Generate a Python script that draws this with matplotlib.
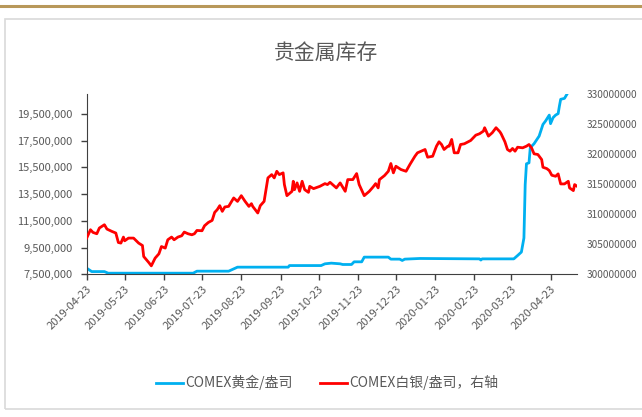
import pandas as pd
import matplotlib.pyplot as plt
import matplotlib.dates as mdates
from matplotlib import font_manager
from matplotlib.ticker import FuncFormatter, FixedLocator
from matplotlib.patches import Rectangle
from matplotlib.lines import Line2D

plt.rcParams['font.family'] = ['Noto Sans CJK SC', 'DejaVu Sans']
installed = {f.name for f in font_manager.fontManager.ttflist}
narrow = "Liberation Sans Narrow" if "Liberation Sans Narrow" in installed else None

# COMEX gold stocks (oz), left axis
gold_dates = [
    "2019-04-23", "2019-04-27", "2019-05-07", "2019-05-10", "2019-07-16", "2019-07-19",
    "2019-08-13", "2019-08-20", "2019-09-29", "2019-09-30", "2019-10-25", "2019-10-28",
    "2019-11-02", "2019-11-09", "2019-11-11", "2019-11-18", "2019-11-20", "2019-11-26",
    "2019-11-28", "2019-12-17", "2019-12-19", "2019-12-26", "2019-12-28", "2019-12-30",
    "2020-01-11", "2020-02-27", "2020-02-28", "2020-02-29", "2020-03-25", "2020-03-28",
    "2020-03-31", "2020-04-02", "2020-04-03", "2020-04-04", "2020-04-06", "2020-04-07",
    "2020-04-10", "2020-04-14", "2020-04-17", "2020-04-19", "2020-04-22", "2020-04-23",
    "2020-04-25", "2020-04-27", "2020-04-29", "2020-04-30", "2020-05-01", "2020-05-04",
    "2020-05-06",
]
gold_mil = [
    7.965, 7.71, 7.71, 7.59, 7.59, 7.74,
    7.74, 8.04, 8.04, 8.16, 8.16, 8.29,
    8.34, 8.29, 8.24, 8.24, 8.44, 8.44,
    8.79, 8.79, 8.64, 8.64, 8.54, 8.64,
    8.69, 8.66, 8.57, 8.66, 8.66, 8.91,
    9.17, 10.22, 14.21, 15.77, 15.84, 16.97,
    17.27, 17.84, 18.71, 18.96, 19.41, 18.77,
    19.22, 19.41, 19.52, 20.09, 20.59, 20.66,
    20.98,
]

# COMEX silver stocks (oz), right axis
silver_dates = [
    "2019-04-23", "2019-04-26", "2019-04-28", "2019-05-01", "2019-05-03", "2019-05-07",
    "2019-05-09", "2019-05-13", "2019-05-16", "2019-05-18", "2019-05-20", "2019-05-22",
    "2019-05-23", "2019-05-26", "2019-05-30", "2019-06-03", "2019-06-06", "2019-06-07",
    "2019-06-11", "2019-06-13", "2019-06-16", "2019-06-19", "2019-06-21", "2019-06-24",
    "2019-06-26", "2019-06-29", "2019-07-01", "2019-07-04", "2019-07-07", "2019-07-09",
    "2019-07-12", "2019-07-15", "2019-07-17", "2019-07-19", "2019-07-23", "2019-07-25",
    "2019-07-28", "2019-07-31", "2019-08-02", "2019-08-04", "2019-08-06", "2019-08-08",
    "2019-08-10", "2019-08-13", "2019-08-17", "2019-08-20", "2019-08-23", "2019-08-26",
    "2019-08-29", "2019-08-31", "2019-09-01", "2019-09-05", "2019-09-07", "2019-09-10",
    "2019-09-13", "2019-09-16", "2019-09-18", "2019-09-20", "2019-09-22", "2019-09-25",
    "2019-09-26", "2019-09-28", "2019-10-02", "2019-10-03", "2019-10-04", "2019-10-06",
    "2019-10-08", "2019-10-10", "2019-10-12", "2019-10-15", "2019-10-16", "2019-10-19",
    "2019-10-24", "2019-10-28", "2019-10-30", "2019-11-01", "2019-11-03", "2019-11-06",
    "2019-11-09", "2019-11-13", "2019-11-15", "2019-11-19", "2019-11-22", "2019-11-24",
    "2019-11-28", "2019-12-02", "2019-12-05", "2019-12-07", "2019-12-09", "2019-12-10",
    "2019-12-14", "2019-12-17", "2019-12-19", "2019-12-21", "2019-12-23", "2019-12-27",
    "2019-12-31", "2020-01-03", "2020-01-07", "2020-01-09", "2020-01-12", "2020-01-15",
    "2020-01-17", "2020-01-21", "2020-01-24", "2020-01-26", "2020-01-28", "2020-01-30",
    "2020-02-02", "2020-02-03", "2020-02-05", "2020-02-07", "2020-02-10", "2020-02-12",
    "2020-02-15", "2020-02-18", "2020-02-20", "2020-02-24", "2020-02-27", "2020-03-01",
    "2020-03-02", "2020-03-05", "2020-03-08", "2020-03-11", "2020-03-14", "2020-03-15",
    "2020-03-18", "2020-03-20", "2020-03-22", "2020-03-24", "2020-03-26", "2020-03-28",
    "2020-04-01", "2020-04-04", "2020-04-06", "2020-04-08", "2020-04-10", "2020-04-13",
    "2020-04-16", "2020-04-17", "2020-04-20", "2020-04-22", "2020-04-24", "2020-04-27",
    "2020-04-29", "2020-05-01", "2020-05-04", "2020-05-07", "2020-05-08", "2020-05-11",
    "2020-05-12", "2020-05-14",
]
silver_mil = [
    306.03, 307.42, 306.97, 306.75, 307.70, 308.25,
    307.53, 307.13, 306.87, 305.30, 305.20, 306.20,
    305.58, 306.03, 306.03, 305.20, 304.80, 302.97,
    301.97, 301.42, 302.70, 303.42, 304.63, 304.37,
    305.75, 306.20, 305.75, 306.20, 306.42, 307.03,
    306.75, 306.58, 306.75, 307.30, 307.25, 308.08,
    308.63, 308.97, 310.30, 310.75, 311.42, 310.47,
    311.20, 311.30, 312.70, 312.13, 313.08, 312.13,
    311.30, 311.75, 311.30, 310.20, 311.42, 312.13,
    316.03, 316.58, 316.03, 317.13, 316.58, 316.87,
    314.92, 313.08, 313.80, 315.47, 314.08, 315.20,
    313.80, 315.47, 314.08, 313.63, 314.63, 314.25,
    314.63, 315.08, 314.92, 315.30, 314.92, 314.37,
    315.20, 313.80, 315.75, 315.75, 316.75, 314.92,
    313.08, 313.80, 314.53, 315.08, 314.37, 315.75,
    316.42, 317.13, 318.42, 316.87, 317.97, 317.42,
    317.13, 318.25, 319.63, 320.20, 320.47, 320.75,
    319.47, 319.63, 321.30, 322.03, 321.58, 320.75,
    321.30, 321.30, 322.42, 320.20, 320.20, 321.58,
    321.70, 322.03, 322.25, 323.13, 323.37, 323.80,
    324.37, 322.97, 323.53, 324.37, 323.70, 323.37,
    322.03, 320.75, 320.47, 320.92, 320.47, 321.13,
    321.03, 321.30, 321.58, 321.03, 320.03, 319.92,
    319.08, 317.80, 317.58, 317.25, 316.47, 316.30,
    316.70, 315.03, 315.03, 315.47, 314.37, 313.92,
    314.92, 314.63,
]

month_ticks = pd.date_range("2019-04-23", "2020-04-23", freq=pd.DateOffset(months=1))

gold = pd.Series([v * 1e6 for v in gold_mil], index=pd.to_datetime(gold_dates))
silver = pd.Series([v * 1e6 for v in silver_mil], index=pd.to_datetime(silver_dates))

grey = "#595959"
fig = plt.figure(figsize=(6.42, 4.17), dpi=100)

# page decoration: gold rule on top, light frame around chart
fig.add_artist(Line2D([0, 1], [0.986, 0.986], color="#b8985a", lw=2.2, transform=fig.transFigure))
fig.add_artist(Rectangle((0.008, 0.018), 1.05, 0.937, transform=fig.transFigure,
                         fill=False, edgecolor="#d9d9d9", lw=1.2))

ax = fig.add_axes([0.135, 0.342, 0.764, 0.433])
ax2 = ax.twinx()

ax.plot(gold.index, gold.values, color="#00b0f0", lw=2.0, label="COMEX黄金/盎司")
ax2.plot(silver.index, silver.values, color="#ff0000", lw=2.0, label="COMEX白银/盎司，右轴")

ax.set_xlim(pd.Timestamp("2019-04-23"), pd.Timestamp("2020-05-14"))
ax.set_ylim(7.5e6, 21e6)
ax2.set_ylim(300e6, 330e6)

ax.xaxis.set_major_locator(FixedLocator(mdates.date2num(month_ticks)))
ax.xaxis.set_major_formatter(mdates.DateFormatter("%Y-%m-%d"))
ax.set_yticks([7.5e6 + 2e6 * i for i in range(7)])
ax.yaxis.set_major_formatter(FuncFormatter(lambda v, p: f"{v:,.0f}"))
ax2.set_yticks([300e6 + 5e6 * i for i in range(7)])
ax2.yaxis.set_major_formatter(FuncFormatter(lambda v, p: f"{v:.0f}"))

for lab in ax.get_xticklabels():
    lab.set_rotation(45)
    lab.set_ha("right")
    lab.set_rotation_mode("anchor")

num_size = 9.5 if narrow else 8
ax.tick_params(axis="x", colors=grey, labelsize=num_size, length=4, width=1, pad=3)
ax.tick_params(axis="y", colors=grey, labelsize=num_size, length=4, width=1, pad=6)
ax2.tick_params(axis="y", colors=grey, labelsize=num_size - 0.7, length=0, pad=7)
ax.tick_params(axis="both", which="both", color="#404040")
if narrow:
    for lab in ax.get_xticklabels() + ax.get_yticklabels() + ax2.get_yticklabels():
        lab.set_fontfamily(narrow)

for a in (ax, ax2):
    a.spines["top"].set_visible(False)
    a.spines["right"].set_visible(False)
    a.patch.set_visible(False)
ax2.spines["left"].set_visible(False)
ax2.spines["bottom"].set_visible(False)
ax.spines["left"].set_color("#404040")
ax.spines["bottom"].set_color("#404040")

fig.text(0.508, 0.873, "贵金属库存", ha="center", va="center", fontsize=15, color=grey)

h1, l1 = ax.get_legend_handles_labels()
h2, l2 = ax2.get_legend_handles_labels()
fig.legend(h1 + h2, l1 + l2, loc="center", bbox_to_anchor=(0.51, 0.082), ncol=2,
           frameon=False, fontsize=10, labelcolor=grey, handlelength=1.9,
           handletextpad=0.2, columnspacing=2.0)

fig.savefig("out.png", dpi=100)
